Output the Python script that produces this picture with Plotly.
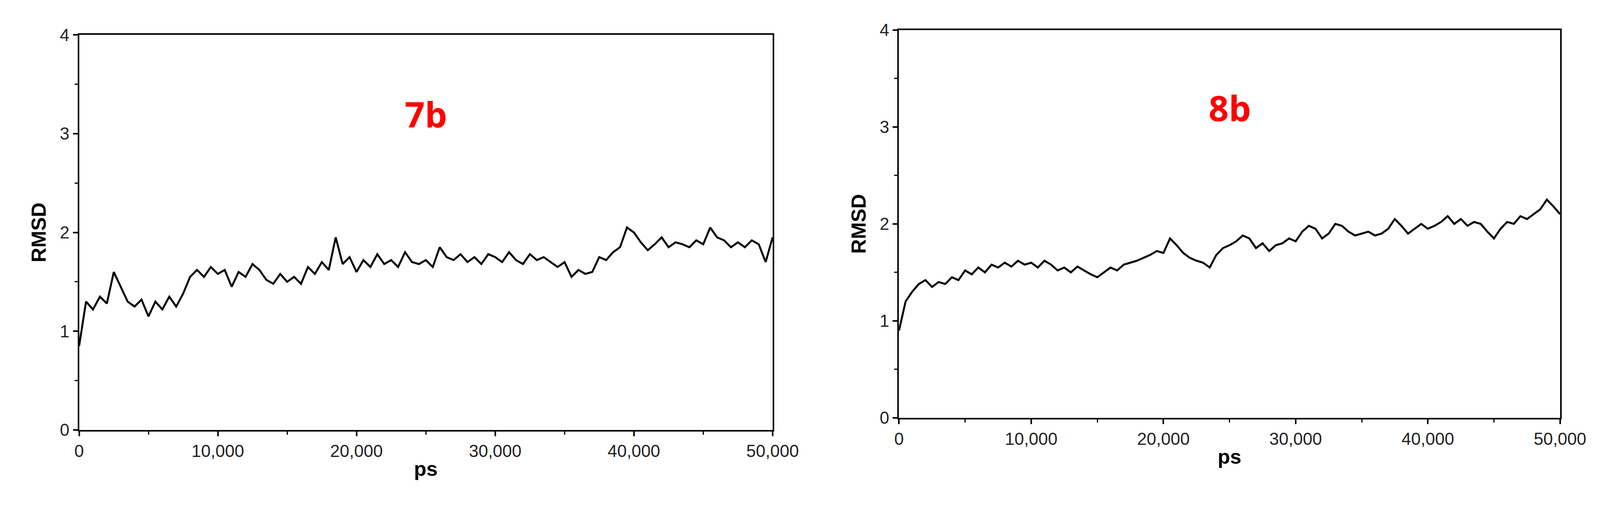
import plotly.graph_objects as go

# time in ps, step 500
t = [i * 500 for i in range(101)]

rmsd_7b = [0.85, 1.30, 1.22, 1.35, 1.28, 1.60, 1.45, 1.30, 1.25, 1.32,
           1.15, 1.30, 1.22, 1.35, 1.25, 1.38, 1.55, 1.62, 1.55, 1.65,
           1.58, 1.62, 1.45, 1.60, 1.55, 1.68, 1.62, 1.52, 1.48, 1.58,
           1.50, 1.55, 1.48, 1.65, 1.58, 1.70, 1.62, 1.95, 1.68, 1.75,
           1.60, 1.72, 1.65, 1.78, 1.68, 1.72, 1.65, 1.80, 1.70, 1.68,
           1.72, 1.65, 1.85, 1.75, 1.72, 1.78, 1.70, 1.75, 1.68, 1.78,
           1.75, 1.70, 1.80, 1.72, 1.68, 1.78, 1.72, 1.75, 1.70, 1.65,
           1.70, 1.55, 1.62, 1.58, 1.60, 1.75, 1.72, 1.80, 1.85, 2.05,
           2.00, 1.90, 1.82, 1.88, 1.95, 1.85, 1.90, 1.88, 1.85, 1.92,
           1.88, 2.05, 1.95, 1.92, 1.85, 1.90, 1.85, 1.92, 1.88, 1.70,
           1.95]

rmsd_8b = [0.90, 1.20, 1.30, 1.38, 1.42, 1.35, 1.40, 1.38, 1.45, 1.42,
           1.52, 1.48, 1.55, 1.50, 1.58, 1.55, 1.60, 1.56, 1.62, 1.58,
           1.60, 1.55, 1.62, 1.58, 1.52, 1.55, 1.50, 1.56, 1.52, 1.48,
           1.45, 1.50, 1.55, 1.52, 1.58, 1.60, 1.62, 1.65, 1.68, 1.72,
           1.70, 1.85, 1.78, 1.70, 1.65, 1.62, 1.60, 1.55, 1.68, 1.75,
           1.78, 1.82, 1.88, 1.85, 1.75, 1.80, 1.72, 1.78, 1.80, 1.85,
           1.82, 1.92, 1.98, 1.95, 1.85, 1.90, 2.00, 1.98, 1.92, 1.88,
           1.90, 1.92, 1.88, 1.90, 1.95, 2.05, 1.98, 1.90, 1.95, 2.00,
           1.95, 1.98, 2.02, 2.08, 2.00, 2.05, 1.98, 2.02, 2.00, 1.92,
           1.85, 1.95, 2.02, 2.00, 2.08, 2.05, 2.10, 2.15, 2.25, 2.18,
           2.10]

labels = ["7b", "8b"]
x_ticks = [0, 10000, 20000, 30000, 40000, 50000]
x_ticktext = ["0", "10,000", "20,000", "30,000", "40,000", "50,000"]
y_ticks = [0, 1, 2, 3, 4]

fig = go.Figure()
fig.add_trace(go.Scatter(x=t, y=rmsd_7b, mode="lines", line=dict(color="black", width=5),
                         xaxis="x", yaxis="y", showlegend=False))
fig.add_trace(go.Scatter(x=t, y=rmsd_8b, mode="lines", line=dict(color="black", width=5),
                         xaxis="x2", yaxis="y2", showlegend=False))

tickfont = dict(family="Liberation Sans", size=44, color="#222")
titlefont = dict(family="Liberation Sans", size=52, color="black")
ax_common = dict(showline=True, linecolor="black", linewidth=4, mirror=True, ticks="outside",
                 ticklen=12, tickwidth=4, tickcolor="black", showgrid=False, zeroline=False,
                 tickfont=tickfont, minor=dict(ticks="outside", ticklen=8, tickwidth=3, tickcolor="black"))

fig.update_layout(
    width=4227, height=1297, margin=dict(l=0, r=0, t=0, b=0),
    paper_bgcolor="white", plot_bgcolor="white",
    xaxis=dict(domain=[0.044, 0.472], range=[0, 50000], tickvals=x_ticks, ticktext=x_ticktext,
               anchor="y", title=dict(text="<b>ps</b>", font=titlefont, standoff=5),
               minor_dtick=5000, **ax_common),
    yaxis=dict(domain=[0.145, 0.955], range=[0, 4], tickvals=y_ticks, anchor="x",
               title=dict(text="<b>RMSD</b>", font=titlefont, standoff=20), minor_dtick=0.5, **ax_common),
    xaxis2=dict(domain=[0.55, 0.958], range=[0, 50000], tickvals=x_ticks, ticktext=x_ticktext,
                anchor="y2", title=dict(text="<b>ps</b>", font=titlefont, standoff=5),
                minor_dtick=5000, **ax_common),
    yaxis2=dict(domain=[0.17, 0.965], range=[0, 4], tickvals=y_ticks, anchor="x2",
                title=dict(text="<b>RMSD</b>", font=titlefont, standoff=20), minor_dtick=0.5, **ax_common),
    annotations=[
        dict(x=25000, y=3.2, xref="x", yref="y", text="<b>" + labels[0] + "</b>", showarrow=False,
             font=dict(family="Open Sans", size=90, color="red")),
        dict(x=25000, y=3.2, xref="x2", yref="y2", text="<b>" + labels[1] + "</b>", showarrow=False,
             font=dict(family="Open Sans", size=90, color="red")),
    ],
)

fig.write_html("out.html")
